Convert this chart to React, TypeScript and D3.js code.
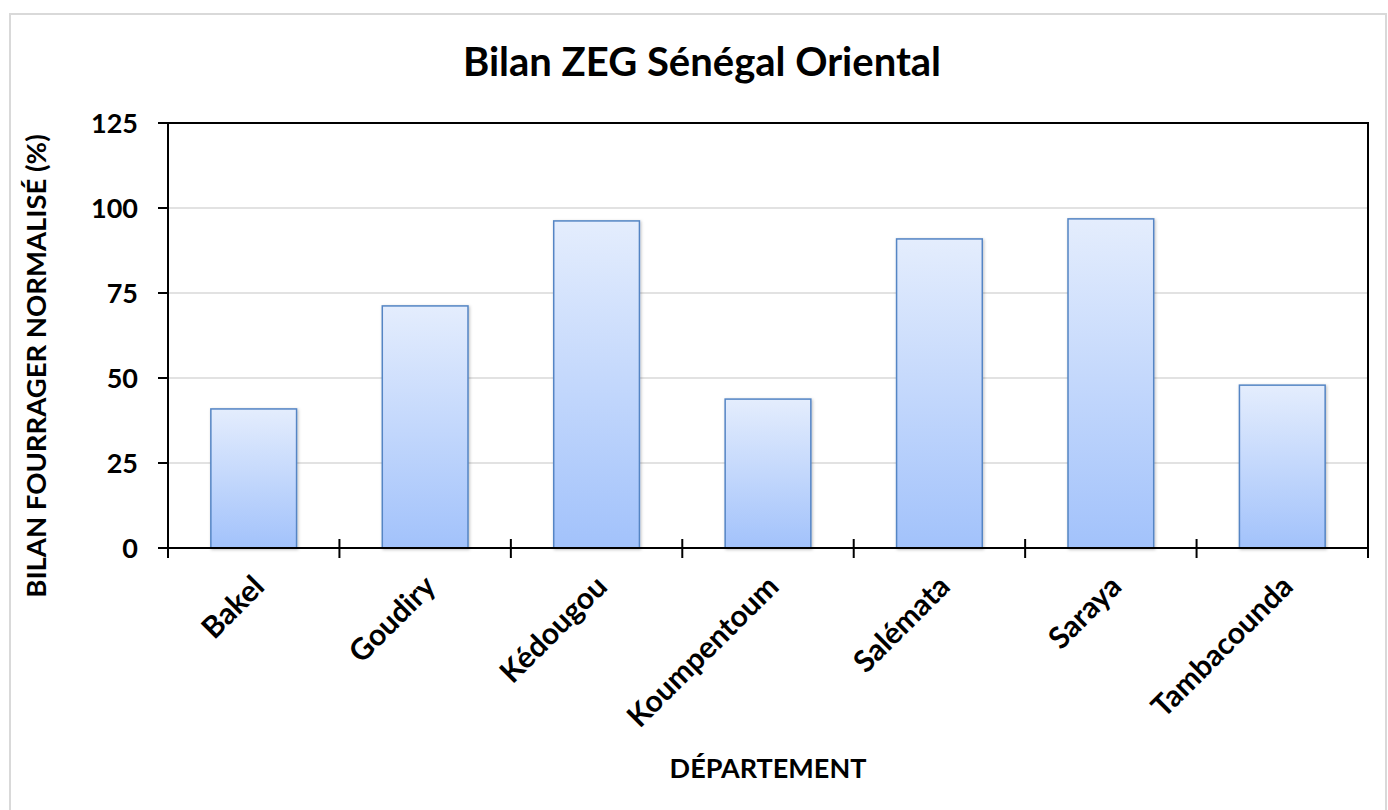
import * as d3 from "d3";
import { useEffect, useRef } from "react";

const departements = ["Bakel", "Goudiry", "Kédougou", "Koumpentoum", "Salémata", "Saraya", "Tambacounda"];
const bilanValues = [40.9, 71.2, 96.2, 43.8, 90.9, 96.8, 47.9];
const yTicks = [0, 25, 50, 75, 100, 125];

function App() {
	const svgRef = useRef<SVGSVGElement>(null);
	const width = 1388;
	const height = 810;
	const font = "Lato, 'Open Sans', sans-serif";

	useEffect(() => {
		const svg = d3.select(svgRef.current);
		svg.selectAll("*").remove();

		const left = 168;
		const right = 1368;
		const top = 123;
		const bottom = 548;

		const defs = svg.append("defs");
		const grad = defs
			.append("linearGradient")
			.attr("id", "barGrad")
			.attr("x1", 0)
			.attr("y1", 0)
			.attr("x2", 0)
			.attr("y2", 1);
		grad.append("stop").attr("offset", "0%").attr("stop-color", "#e4edfd");
		grad.append("stop").attr("offset", "100%").attr("stop-color", "#a2c2fb");
		const filt = defs.append("filter").attr("id", "shadow").attr("x", "-10%").attr("y", "-10%").attr("width", "130%").attr("height", "130%");
		filt.append("feDropShadow")
			.attr("dx", 1)
			.attr("dy", 1)
			.attr("stdDeviation", 1.5)
			.attr("flood-color", "#000")
			.attr("flood-opacity", 0.25);

		// outer chart border
		svg.append("rect")
			.attr("x", 10)
			.attr("y", 14)
			.attr("width", 1376)
			.attr("height", 810)
			.attr("fill", "white")
			.attr("stroke", "#d9d9d9")
			.attr("stroke-width", 2);

		const x = d3.scaleBand<string>().domain(departements).range([left, right]).paddingInner(0.5).paddingOuter(0.25);
		const xOuter = d3.scaleBand<string>().domain(departements).range([left, right]);
		const y = d3.scaleLinear().domain([0, 125]).range([bottom, top]);

		// grid
		svg.append("g")
			.selectAll("line")
			.data(yTicks.filter((t) => t > 0 && t < 125))
			.enter()
			.append("line")
			.attr("x1", left)
			.attr("x2", right)
			.attr("y1", (d) => y(d))
			.attr("y2", (d) => y(d))
			.attr("stroke", "#d9d9d9")
			.attr("stroke-width", 1.5);

		// bars
		svg.append("g")
			.selectAll("rect")
			.data(bilanValues)
			.enter()
			.append("rect")
			.attr("x", (_, i) => x(departements[i]) as number)
			.attr("y", (d) => y(d))
			.attr("width", x.bandwidth())
			.attr("height", (d) => bottom - y(d))
			.attr("fill", "url(#barGrad)")
			.attr("stroke", "#5485c4")
			.attr("stroke-width", 1.5)
			.attr("filter", "url(#shadow)");

		// plot frame
		svg.append("rect")
			.attr("x", left)
			.attr("y", top)
			.attr("width", right - left)
			.attr("height", bottom - top)
			.attr("fill", "none")
			.attr("stroke", "black")
			.attr("stroke-width", 2);

		// y ticks
		const yAxis = svg.append("g");
		yTicks.forEach((t) => {
			yAxis.append("line")
				.attr("x1", left - 10)
				.attr("x2", left)
				.attr("y1", y(t))
				.attr("y2", y(t))
				.attr("stroke", "black")
				.attr("stroke-width", 2);
			yAxis.append("text")
				.attr("x", 138)
				.attr("y", y(t))
				.attr("dy", "0.36em")
				.attr("text-anchor", "end")
				.style("font-family", font)
				.style("font-weight", "bold")
				.style("font-size", "27px")
				.text(t);
		});

		// x ticks
		const xAxis = svg.append("g");
		const tickPos = departements.map((d) => xOuter(d) as number).concat([right]);
		tickPos.forEach((p) => {
			xAxis.append("line")
				.attr("x1", p)
				.attr("x2", p)
				.attr("y1", bottom - 9)
				.attr("y2", bottom + 10)
				.attr("stroke", "black")
				.attr("stroke-width", 2);
		});
		departements.forEach((d) => {
			const cx = (x(d) as number) + x.bandwidth() / 2;
			xAxis.append("text")
				.attr("transform", "translate(" + (cx + 5) + "," + (bottom + 33) + ") rotate(-45)")
				.attr("text-anchor", "end")
				.attr("dy", "0.35em")
				.style("font-family", font)
				.style("font-weight", "bold")
				.style("font-size", "30px")
				.text(d);
		});

		// titles
		svg.append("text")
			.attr("x", 702)
			.attr("y", 76)
			.attr("text-anchor", "middle")
			.style("font-family", font)
			.style("font-weight", "bold")
			.style("font-size", "40px")
			.text("Bilan ZEG Sénégal Oriental");

		svg.append("text")
			.attr("transform", "translate(46," + 366 + ") rotate(-90)")
			.attr("text-anchor", "middle")
			.style("font-family", font)
			.style("font-weight", "bold")
			.style("font-size", "27.5px")
			.text("BILAN FOURRAGER NORMALISÉ (%)");

		svg.append("text")
			.attr("x", (left + right) / 2)
			.attr("y", 778)
			.attr("text-anchor", "middle")
			.style("font-family", font)
			.style("font-weight", "bold")
			.style("font-size", "27px")
			.text("DÉPARTEMENT");
	}, []);

	return (
		<svg
			ref={svgRef}
			width={width}
			height={height}
			style={{ position: "absolute", left: 0, top: 0, background: "white" }}
		></svg>
	);
}

export default App;
